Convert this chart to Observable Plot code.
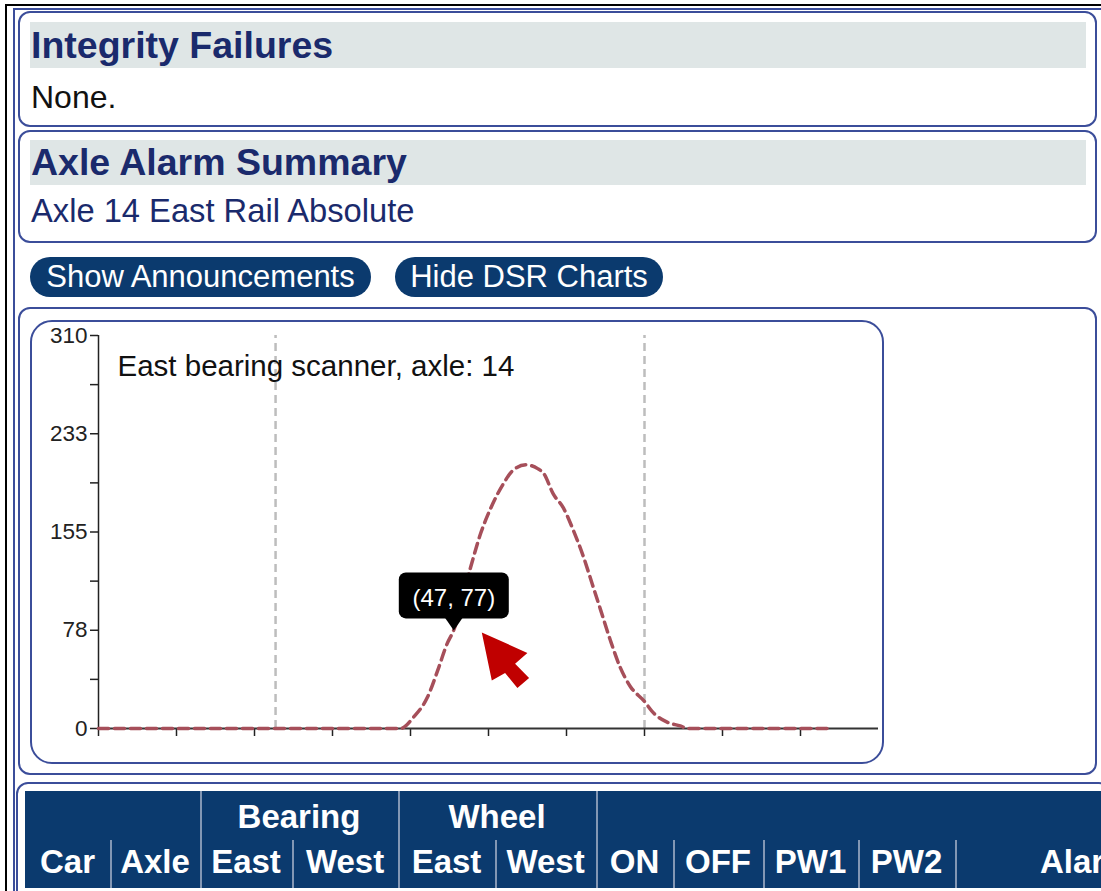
<!DOCTYPE html>
<html>
<head>
<meta charset="utf-8">
<script src="https://cdn.jsdelivr.net/npm/d3@7"></script>
<script src="https://cdn.jsdelivr.net/npm/@observablehq/plot@0.6"></script>
<style>
  html,body{margin:0;padding:0;background:#fff;}
  body{font-family:"Liberation Sans",Arial,Helvetica,sans-serif;}
  #page{position:relative;width:1101px;height:891px;overflow:hidden;background:#fff;}
  .a{position:absolute;box-sizing:border-box;}
  .panel{border:2px solid #3b4d9a;border-radius:12px;background:#fff;}
  .hdr{background:#dfe6e6;color:#1a2a6c;font-weight:bold;font-size:37.5px;padding-left:1px;white-space:nowrap;}
  .txt{font-size:32px;line-height:40px;white-space:nowrap;}
  .btn{background:#0b3a6e;color:#fff;border-radius:20px;font-size:31px;line-height:40px;height:40px;text-align:center;white-space:nowrap;}
  .th{color:#fff;font-weight:bold;font-size:33px;line-height:40px;text-align:center;white-space:nowrap;overflow:hidden;}
  .sep{background:#8397b4;width:2px;}
  #chart svg g[aria-label="y-axis tick label"], #chart svg g[aria-label="y-axis tick label"] text{font-size:22.5px !important;}
</style>
</head>
<body>
<div id="page">
  <div class="a" style="left:5px;top:4px;width:1096px;height:2px;background:#000"></div>
  <div class="a" style="left:5px;top:4px;width:2px;height:887px;background:#000"></div>
  <div class="a" style="left:13px;top:8px;width:1088px;height:2px;background:#3b4d9a"></div>
  <div class="a" style="left:13px;top:8px;width:2px;height:883px;background:#3b4d9a"></div>

  <div class="a panel" style="left:18px;top:11px;width:1079px;height:116px"></div>
  <div class="a hdr" id="h1" style="left:30px;top:22px;width:1056px;height:46px;line-height:46px"></div>
  <div class="a txt" id="t1" style="left:31px;top:77px;color:#111"></div>

  <div class="a panel" style="left:18px;top:130px;width:1079px;height:113px"></div>
  <div class="a hdr" id="h2" style="left:30px;top:140px;width:1056px;height:45px;line-height:45px"></div>
  <div class="a txt" id="t2" style="left:31px;top:191px;color:#1a2a6c;font-size:32.7px"></div>

  <div class="a btn" id="b1" style="left:30px;top:257px;width:341px"></div>
  <div class="a btn" id="b2" style="left:395px;top:257px;width:268px"></div>

  <div class="a panel" style="left:18px;top:307px;width:1079px;height:468px"></div>
  <div class="a panel" style="left:30px;top:320px;width:854px;height:444px;border-radius:22px"></div>
  <div class="a" id="chart" style="left:32px;top:322px;width:850px;height:440px"></div>

  <div class="a panel" style="left:16px;top:782px;width:1095px;height:150px"></div>
  <div class="a" id="table" style="left:25px;top:791px;width:1080px;height:97px;background:#0b3a6e;overflow:hidden"></div>
</div>
<script>
// ---- page texts ----
const sectionTitles = ["Integrity Failures", "Axle Alarm Summary"];
const sectionTexts = ["None.", "Axle 14 East Rail Absolute"];
const buttonLabels = ["Show Announcements", "Hide DSR Charts"];

// ---- table header ----
const groupLabels = ["Bearing", "Wheel"];
const groupEdges = [[200, 398], [398, 596]];
const columnLabels = ["Car", "Axle", "East", "West", "East", "West", "ON", "OFF", "PW1", "PW2"];
const columnEdges = [25, 110, 200, 292, 398, 495, 596, 673, 763, 858, 955];
const lastColumnLabel = "Alarms";

// ---- chart data ----
const chartTitle = "East bearing scanner, axle: 14";
const sampleIndex = [1, 39.7, 41.4, 43.2, 44.5, 45.7, 46.5, 48.7, 50.0, 51.3, 52.9, 54.2, 55.8, 57.3, 58.1, 59.3, 60.6, 61.9, 63.2, 64.3, 65.4, 66.6, 67.9, 69.2, 70.9, 72.2, 73.9, 75.6, 76.5, 94.6];
const scanValues  = [0, 0,    9,    25,   46,   67,   77,   127,  154,  174,  193,  204,  208,  205,  201,  185,  174,  156,  135,  114,  93,   70,   48,   33,   22,   12,   5,    2,    0,    0];
const scanWindow = [23.7, 71];
const xTicks = [1, 11, 21, 31, 41, 51, 61, 71, 81, 91];
const yTicks = [0, 77.5, 155, 232.5, 310];
const yMinorTicks = [38.75, 116.25, 193.75, 271.25];
const tooltipPoint = {x: 47, y: 77};

document.getElementById("h1").textContent = sectionTitles[0];
document.getElementById("h2").textContent = sectionTitles[1];
document.getElementById("t1").textContent = sectionTexts[0];
document.getElementById("t2").textContent = sectionTexts[1];
document.getElementById("b1").textContent = buttonLabels[0];
document.getElementById("b2").textContent = buttonLabels[1];

// table header cells
const table = document.getElementById("table");
const T0 = 25, TY = 791;
function addDiv(cls, style, text) {
  const d = document.createElement("div");
  d.className = cls;
  Object.assign(d.style, style);
  if (text != null) d.textContent = text;
  table.appendChild(d);
}
groupLabels.forEach((g, i) => {
  const [l, r] = groupEdges[i];
  addDiv("a th", {left: (l - T0) + "px", top: (797 - TY) + "px", width: (r - l) + "px"}, g);
});
columnLabels.forEach((c, i) => {
  const l = columnEdges[i], r = columnEdges[i + 1];
  addDiv("a th", {left: (l - T0) + "px", top: (842 - TY) + "px", width: (r - l) + "px"}, c);
});
addDiv("a th", {left: (1040 - T0) + "px", top: (842 - TY) + "px", width: "200px", textAlign: "left", overflow: "visible"}, lastColumnLabel);
[200, 398, 596].forEach(x => addDiv("a sep", {left: (x - T0) + "px", top: "0px", height: "97px"}));
[110, 292, 495, 673, 763, 858, 955].forEach(x => addDiv("a sep", {left: (x - T0) + "px", top: (840 - TY) + "px", height: "48px"}));

// ---- chart ----
const series = sampleIndex.map((x, i) => ({x, y: scanValues[i]}));

function tooltipMark(index, scales) {
  const sx = scales.x || (scales.scales && scales.scales.x);
  const sy = scales.y || (scales.scales && scales.scales.y);
  const px = sx(tooltipPoint.x) - 3, py = sy(tooltipPoint.y);
  const g = d3.create("svg:g");
  const w = 110, top = py - 58, bottom = py - 12, r = 7;
  g.append("rect").attr("x", px - w / 2).attr("y", top).attr("width", w).attr("height", bottom - top)
    .attr("rx", r).attr("fill", "#000");
  g.append("path").attr("d", `M${px - 9},${bottom - 1}L${px},${py}L${px + 9},${bottom - 1}Z`).attr("fill", "#000");
  g.append("text").attr("x", px).attr("y", py - 24).attr("text-anchor", "middle")
    .attr("fill", "#fff").attr("font-size", 24)
    .text(`(${tooltipPoint.x}, ${tooltipPoint.y})`);
  // cursor arrow
  const cx = px + 28, cy = py + 2;
  const arrow = [[0,0],[45.6,20.6],[33.3,31.3],[47.3,45.6],[35.6,55.6],[23.3,40.6],[10,48]];
  g.append("path").attr("d", "M" + arrow.map(([a, b]) => `${cx + a},${cy + b}`).join("L") + "Z")
    .attr("fill", "#c00000");
  return g.node();
}

const plot = Plot.plot({
  width: 850, height: 440,
  marginLeft: 66, marginRight: 4, marginTop: 13, marginBottom: 34,
  x: {domain: [1, 101]},
  y: {domain: [0, 310]},
  style: {fontFamily: "'Liberation Sans', Arial, sans-serif", fontSize: "22px", color: "#222", background: "transparent", overflow: "visible"},
  marks: [
    Plot.ruleX(scanWindow, {y1: 0, y2: 310, stroke: "#bdbdbd", strokeWidth: 2.5, strokeDasharray: "8,5"}),
    Plot.axisY(yMinorTicks, {tickSize: 8, tickFormat: () => "", strokeWidth: 1.5, label: null}),
    Plot.axisY(yTicks, {tickSize: 8, tickPadding: 3, tickFormat: d => String(Math.round(d)), fontSize: 22.5, strokeWidth: 1.5, label: null}),
    Plot.axisX(xTicks, {tickSize: 8, tickFormat: () => "", strokeWidth: 1.5, label: null}),
    Plot.ruleX([1], {y1: 0, y2: 310, stroke: "#222", strokeWidth: 1.5}),
    Plot.ruleY([0], {stroke: "#333", strokeWidth: 2}),
    Plot.line(series, {x: "x", y: "y", curve: "monotone-x", stroke: "#a64f5a", strokeWidth: 3.5, strokeDasharray: "10,6"}),
    Plot.text([chartTitle], {text: d => d, frameAnchor: "top-left", textAnchor: "start", lineAnchor: "top", dx: 19, dy: 20, fontSize: 29.5, fill: "#111"}),
    tooltipMark
  ]
});
d3.select(plot).selectAll("g[aria-label='y-axis tick label'] text").attr("font-size", 22.5).style("font-size", "22.5px");
d3.select(plot).selectAll("g[aria-label='y-axis tick label']").attr("font-size", 22.5);
document.getElementById("chart").appendChild(plot);
</script>
</body>
</html>
